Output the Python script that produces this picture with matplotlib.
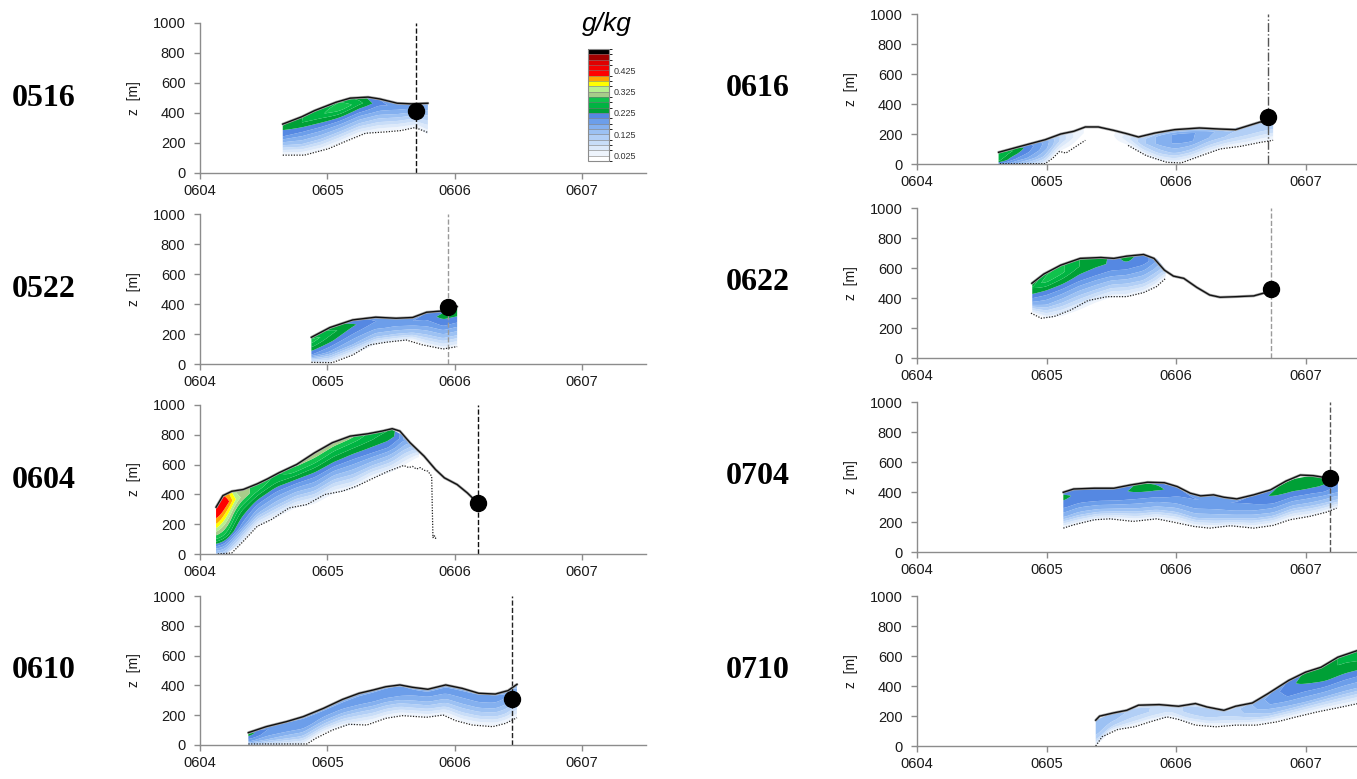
import numpy as np
import matplotlib
matplotlib.use("Agg")
import matplotlib.pyplot as plt
import matplotlib as mpl
from matplotlib.colors import ListedColormap, BoundaryNorm

nan = np.nan

# colour scale of the mixing ratio (g/kg)
levels = np.round(np.arange(0, 0.5251, 0.025), 3)
band_colors = ['#ffffff', '#eef4fc', '#dce9fa', '#c8ddf8', '#b2cff6', '#9cc1f3',
               '#84b0ef', '#6c9eea', '#5588e2', '#00a036', '#00b442', '#10c24c',
               '#a8cc8a', '#b6f08e', '#ffff00', '#ffa500', '#ff0000', '#f40000',
               '#e00000', '#a00000', '#000000']
cbar_ticks = [0.025, 0.125, 0.225, 0.325, 0.425]

# relative heights (bottom -> top of layer) where q is given
s_lev = [0, 0.3, 0.6, 0.85, 1.0]

# ---------------- 0516
t0516_x = [0.65, 0.8, 0.9, 1.07, 1.18, 1.32, 1.41, 1.55, 1.66, 1.79]
t0516_z = [326, 375, 416, 472, 499, 506, 494, 465, 461, 465]
b0516_x = [0.65, 0.82, 1.01, 1.15, 1.30, 1.46, 1.58, 1.69, 1.79]
b0516_z = [119, 119, 162, 213, 265, 274, 283, 303, 270]
f0516_x = [0.65, 0.8, 0.95, 1.1, 1.25, 1.4, 1.55, 1.7, 1.79]
f0516_top = [326, 375, 432, 480, 504, 496, 466, 461, 465]
f0516_bot = [119, 119, 145, 195, 250, 272, 283, 300, 250]
f0516_q = [[0.02, 0.12, 0.20, 0.23, 0.22],
           [0.02, 0.13, 0.20, 0.25, 0.25],
           [0.02, 0.13, 0.21, 0.27, 0.26],
           [0.02, 0.13, 0.22, 0.30, 0.27],
           [0.02, 0.12, 0.20, 0.26, 0.24],
           [0.02, 0.10, 0.17, 0.21, 0.20],
           [0.02, 0.09, 0.15, 0.19, 0.18],
           [0.02, 0.08, 0.14, 0.18, 0.17],
           [0.02, 0.07, 0.12, 0.16, 0.15]]

# ---------------- 0522
t0522_x = [0.875, 1.02, 1.2, 1.38, 1.54, 1.67, 1.78, 1.91, 2.02]
t0522_z = [178, 243, 294, 312, 305, 310, 345, 354, 383]
b0522_x = [0.875, 1.04, 1.20, 1.33, 1.46, 1.62, 1.75, 1.91, 2.02]
b0522_z = [11, 9, 60, 127, 145, 160, 127, 100, 116]
f0522_x = [0.875, 1.02, 1.2, 1.38, 1.54, 1.67, 1.78, 1.91, 2.02]
f0522_top = [178, 243, 294, 312, 305, 310, 345, 354, 383]
f0522_bot = [11, 9, 60, 130, 150, 160, 125, 100, 116]
f0522_q = [[0.05, 0.20, 0.25, 0.29, 0.26],
           [0.04, 0.17, 0.23, 0.26, 0.24],
           [0.03, 0.15, 0.20, 0.23, 0.21],
           [0.03, 0.13, 0.18, 0.20, 0.19],
           [0.03, 0.12, 0.17, 0.19, 0.18],
           [0.03, 0.12, 0.17, 0.20, 0.19],
           [0.03, 0.12, 0.18, 0.21, 0.20],
           [0.03, 0.13, 0.20, 0.235, 0.22],
           [0.03, 0.13, 0.20, 0.24, 0.23]]

# ---------------- 0604
t0604_x = [0.126, 0.18, 0.25, 0.34, 0.45, 0.53, 0.62, 0.76, 0.90, 1.04, 1.18,
           1.32, 1.43, 1.51, 1.57, 1.65, 1.76, 1.85, 1.92, 2.02, 2.10, 2.185]
t0604_z = [314, 392, 421, 433, 471, 504, 545, 601, 679, 747, 791,
           807, 825, 841, 825, 747, 657, 567, 511, 466, 410, 339]
b0604_x = [0.14, 0.25, 0.34, 0.45, 0.56, 0.70, 0.84, 0.98, 1.12, 1.23, 1.34, 1.48,
           1.60, 1.64, 1.67, 1.70, 1.73, 1.76, 1.79, 1.82, 1.825, 1.83, 1.84, 1.85, 1.86]
b0604_z = [0, 7, 85, 186, 231, 309, 332, 399, 422, 455, 500, 556,
           594, 580, 588, 570, 580, 562, 556, 522, 300, 110, 125, 105, 118]
f0604_x = [0.126, 0.2, 0.3, 0.45, 0.6, 0.75, 0.9, 1.05, 1.2, 1.35, 1.5, 1.6, 1.72]
f0604_top = [314, 405, 428, 471, 538, 600, 679, 749, 794, 812, 838, 795, 690]
f0604_bot = [0, 0, 55, 186, 240, 305, 332, 400, 430, 505, 545, 590, 650]
f0604_q = [[0.12, 0.27, 0.37, 0.42, 0.42],
           [0.10, 0.27, 0.36, 0.43, 0.40],
           [0.05, 0.20, 0.26, 0.33, 0.30],
           [0.03, 0.15, 0.22, 0.28, 0.30],
           [0.02, 0.13, 0.20, 0.26, 0.27],
           [0.02, 0.13, 0.21, 0.28, 0.31],
           [0.02, 0.14, 0.22, 0.29, 0.32],
           [0.02, 0.13, 0.22, 0.28, 0.32],
           [0.02, 0.13, 0.21, 0.27, 0.31],
           [0.02, 0.13, 0.21, 0.25, 0.26],
           [0.02, 0.12, 0.20, 0.24, 0.25],
           [0.02, 0.08, 0.14, 0.18, 0.17],
           [0.02, 0.04, 0.06, 0.08, 0.07]]

# ---------------- 0610
t0610_x = [0.38, 0.52, 0.68, 0.81, 0.97, 1.12, 1.25, 1.36, 1.46, 1.57, 1.67, 1.79,
           1.93, 2.06, 2.19, 2.32, 2.42, 2.49]
t0610_z = [83, 123, 157, 190, 246, 306, 347, 369, 391, 403, 387, 374,
           403, 380, 347, 342, 365, 407]
b0610_x = [0.38, 0.84, 0.91, 1.04, 1.17, 1.31, 1.46, 1.59, 1.78, 1.91, 2.01, 2.14,
           2.30, 2.40, 2.49]
b0610_z = [7, 7, 45, 100, 139, 134, 179, 197, 186, 201, 163, 134, 123, 145, 183]
f0610_x = t0610_x
f0610_top = t0610_z
f0610_bot = [0, 0, 0, 0, 80, 120, 135, 150, 179, 195, 192, 186, 198, 150, 130, 125, 150, 183]
f0610_q = [[0.10, 0.18, 0.22, 0.24, 0.20],
           [0.06, 0.15, 0.19, 0.20, 0.18],
           [0.04, 0.13, 0.18, 0.19, 0.17],
           [0.03, 0.12, 0.18, 0.19, 0.16],
           [0.02, 0.11, 0.17, 0.19, 0.15],
           [0.02, 0.10, 0.17, 0.19, 0.14],
           [0.02, 0.10, 0.17, 0.20, 0.14],
           [0.02, 0.10, 0.17, 0.20, 0.15],
           [0.02, 0.10, 0.17, 0.20, 0.16],
           [0.02, 0.10, 0.17, 0.20, 0.17],
           [0.02, 0.10, 0.16, 0.19, 0.16],
           [0.02, 0.10, 0.16, 0.19, 0.15],
           [0.02, 0.10, 0.16, 0.19, 0.16],
           [0.02, 0.10, 0.16, 0.19, 0.16],
           [0.02, 0.10, 0.16, 0.19, 0.17],
           [0.02, 0.10, 0.16, 0.19, 0.17],
           [0.02, 0.10, 0.15, 0.18, 0.16],
           [0.02, 0.08, 0.13, 0.15, 0.13]]

# ---------------- 0616
t0616_x = [0.63, 0.80, 0.99, 1.11, 1.21, 1.30, 1.40, 1.52, 1.62, 1.71, 1.84, 1.99,
           2.18, 2.34, 2.46, 2.56, 2.65, 2.75]
t0616_z = [78, 118, 162, 200, 218, 247, 247, 224, 202, 180, 207, 229,
           240, 233, 229, 256, 280, 284]
b0616_x = [0.64, 0.99, 1.05, 1.10, 1.15, 1.21, 1.30, nan, 1.63, 1.77, 1.93, 2.04,
           2.18, 2.34, 2.50, 2.65, 2.75]
b0616_z = [2, 2, 40, 84, 73, 107, 158, nan, 124, 56, 11, 7, 51, 100, 118, 144, 158]
f0616_x = [0.63, 0.75, 0.87, 0.99, 1.1, 1.2, 1.3, 1.46, 1.63, 1.75, 1.87, 1.99,
           2.12, 2.25, 2.4, 2.55, 2.65, 2.75]
f0616_top = [78, 106, 135, 162, 198, 218, 247, 235, 200, 185, 213, 229,
             236, 240, 231, 256, 280, 284]
f0616_bot = [0, 0, 0, 2, 84, 107, 158, 150, 124, 60, 20, 7, 30, 75, 110, 125, 144, 158]
f0616_q = [[0.20, 0.26, 0.27, 0.27, 0.25],
           [0.15, 0.20, 0.23, 0.25, 0.23],
           [0.10, 0.17, 0.20, 0.21, 0.20],
           [0.05, 0.12, 0.16, 0.17, 0.16],
           [0.02, 0.06, 0.10, 0.10, 0.08],
           [0.01, 0.03, 0.05, 0.05, 0.03],
           [0.00, 0.01, 0.02, 0.02, 0.00],
           [0.00, 0.00, 0.00, 0.00, 0.00],
           [0.02, 0.05, 0.07, 0.06, 0.04],
           [0.02, 0.08, 0.12, 0.12, 0.08],
           [0.03, 0.11, 0.16, 0.16, 0.11],
           [0.03, 0.13, 0.18, 0.18, 0.12],
           [0.03, 0.12, 0.18, 0.18, 0.12],
           [0.03, 0.10, 0.15, 0.16, 0.10],
           [0.02, 0.08, 0.12, 0.13, 0.10],
           [0.02, 0.07, 0.11, 0.12, 0.10],
           [0.02, 0.07, 0.11, 0.12, 0.10],
           [0.02, 0.06, 0.10, 0.11, 0.09]]

# ---------------- 0622
t0622_x = [0.887, 0.98, 1.11, 1.26, 1.42, 1.52, 1.62, 1.75, 1.83, 1.91, 1.98, 2.06,
           2.16, 2.26, 2.34, 2.47, 2.60, 2.75]
t0622_z = [498, 560, 619, 664, 670, 664, 679, 690, 664, 586, 546, 531,
           471, 420, 405, 409, 414, 450]
b0622_x = [0.88, 0.96, 1.06, 1.19, 1.32, 1.47, 1.62, 1.75, 1.85, 1.92]
b0622_z = [299, 265, 277, 321, 383, 409, 409, 436, 476, 531]
f0622_x = [0.89, 1.0, 1.12, 1.25, 1.38, 1.5, 1.62, 1.75, 1.85, 1.92]
f0622_top = [498, 565, 620, 660, 670, 666, 679, 690, 664, 590]
f0622_bot = [299, 265, 280, 320, 370, 405, 409, 436, 476, 531]
f0622_q = [[0.03, 0.16, 0.22, 0.25, 0.23],
           [0.03, 0.15, 0.22, 0.29, 0.27],
           [0.03, 0.14, 0.22, 0.28, 0.28],
           [0.03, 0.13, 0.21, 0.25, 0.25],
           [0.03, 0.13, 0.20, 0.235, 0.24],
           [0.03, 0.12, 0.19, 0.22, 0.22],
           [0.03, 0.12, 0.19, 0.225, 0.23],
           [0.03, 0.12, 0.18, 0.22, 0.22],
           [0.02, 0.09, 0.14, 0.17, 0.17],
           [0.01, 0.05, 0.08, 0.10, 0.10]]

# ---------------- 0704
t0704_x = [1.13, 1.21, 1.37, 1.52, 1.65, 1.78, 1.91, 2.01, 2.11, 2.19, 2.29, 2.37,
           2.47, 2.60, 2.73, 2.85, 2.96, 3.06, 3.19, 3.24]
t0704_z = [398, 420, 425, 425, 447, 465, 462, 436, 392, 374, 381, 365,
           354, 381, 414, 473, 513, 509, 491, 485]
b0704_x = [1.13, 1.21, 1.37, 1.49, 1.67, 1.85, 1.98, 2.14, 2.26, 2.42, 2.60, 2.75,
           2.88, 3.03, 3.16, 3.24]
b0704_z = [159, 181, 215, 221, 204, 221, 199, 170, 159, 175, 159, 177, 215, 237, 265, 292]
f0704_x = [1.13, 1.25, 1.4, 1.55, 1.7, 1.85, 2.0, 2.15, 2.3, 2.45, 2.6, 2.75, 2.9,
           3.05, 3.15, 3.25]
f0704_top = [398, 422, 425, 428, 452, 463, 438, 383, 380, 356, 381, 420, 485, 510, 495, 480]
f0704_bot = [159, 185, 212, 215, 205, 218, 200, 165, 160, 170, 160, 177, 220, 237, 260, 292]
f0704_q = [[0.02, 0.15, 0.21, 0.235, 0.22],
           [0.02, 0.14, 0.20, 0.215, 0.20],
           [0.02, 0.14, 0.20, 0.21, 0.20],
           [0.02, 0.14, 0.20, 0.215, 0.20],
           [0.02, 0.14, 0.20, 0.235, 0.23],
           [0.02, 0.14, 0.20, 0.235, 0.22],
           [0.02, 0.13, 0.19, 0.21, 0.20],
           [0.02, 0.13, 0.18, 0.20, 0.19],
           [0.02, 0.13, 0.18, 0.20, 0.19],
           [0.02, 0.13, 0.18, 0.20, 0.19],
           [0.02, 0.13, 0.19, 0.21, 0.20],
           [0.02, 0.14, 0.20, 0.23, 0.22],
           [0.02, 0.14, 0.21, 0.25, 0.24],
           [0.02, 0.14, 0.21, 0.25, 0.24],
           [0.02, 0.13, 0.20, 0.23, 0.22],
           [0.02, 0.12, 0.18, 0.20, 0.19]]

# ---------------- 0710
t0710_x = [1.38, 1.41, 1.52, 1.62, 1.71, 1.87, 2.02, 2.15, 2.24, 2.37, 2.46, 2.59,
           2.71, 2.87, 3.0, 3.12, 3.25, 3.40, 3.5]
t0710_z = [172, 199, 221, 238, 272, 276, 265, 283, 260, 238, 265, 287,
           349, 437, 492, 525, 592, 636, 660]
b0710_x = [1.38, 1.43, 1.55, 1.68, 1.80, 1.93, 2.02, 2.15, 2.31, 2.46, 2.62, 2.78,
           2.93, 3.09, 3.28, 3.5]
b0710_z = [0, 62, 110, 128, 161, 194, 177, 139, 128, 139, 139, 161, 194, 227, 260, 300]
f0710_x = [1.38, 1.5, 1.65, 1.8, 1.95, 2.1, 2.25, 2.4, 2.55, 2.7, 2.85, 3.0, 3.15, 3.3, 3.45]
f0710_top = [172, 217, 250, 274, 270, 280, 258, 246, 280, 345, 425, 492, 540, 607, 650]
f0710_bot = [0, 95, 125, 161, 190, 150, 132, 134, 139, 150, 178, 208, 238, 262, 290]
f0710_q = [[0.04, 0.12, 0.14, 0.14, 0.13],
           [0.02, 0.10, 0.13, 0.14, 0.13],
           [0.02, 0.08, 0.11, 0.12, 0.10],
           [0.02, 0.07, 0.10, 0.10, 0.08],
           [0.02, 0.06, 0.08, 0.08, 0.07],
           [0.02, 0.08, 0.11, 0.11, 0.08],
           [0.02, 0.08, 0.12, 0.12, 0.09],
           [0.02, 0.07, 0.10, 0.10, 0.08],
           [0.02, 0.09, 0.13, 0.14, 0.12],
           [0.02, 0.12, 0.17, 0.18, 0.16],
           [0.02, 0.14, 0.20, 0.21, 0.20],
           [0.02, 0.15, 0.21, 0.24, 0.23],
           [0.02, 0.15, 0.22, 0.25, 0.25],
           [0.02, 0.15, 0.22, 0.25, 0.25],
           [0.02, 0.15, 0.22, 0.26, 0.25]]

names = ['0516', '0522', '0604', '0610', '0616', '0622', '0704', '0710']
dot_x = [1.70, 1.945, 2.185, 2.45, 2.71, 2.73, 3.19, None]
dot_z = [411, 383, 339, 306, 313, 460, 491, None]
vline_col = ['#111111', '#9a9a9a', '#111111', '#222222', '#555555', '#9a9a9a', '#555555', None]
vline_ls = ['--', '--', '--', '--', '-.', '--', '--', None]

xtick_pos = [0, 1, 2, 3]
xtick_lab = ['0604', '0605', '0606', '0607']
ytick_pos = [0, 200, 400, 600, 800, 1000]

data = {
    '0516': (t0516_x, t0516_z, b0516_x, b0516_z, f0516_x, f0516_top, f0516_bot, f0516_q),
    '0522': (t0522_x, t0522_z, b0522_x, b0522_z, f0522_x, f0522_top, f0522_bot, f0522_q),
    '0604': (t0604_x, t0604_z, b0604_x, b0604_z, f0604_x, f0604_top, f0604_bot, f0604_q),
    '0610': (t0610_x, t0610_z, b0610_x, b0610_z, f0610_x, f0610_top, f0610_bot, f0610_q),
    '0616': (t0616_x, t0616_z, b0616_x, b0616_z, f0616_x, f0616_top, f0616_bot, f0616_q),
    '0622': (t0622_x, t0622_z, b0622_x, b0622_z, f0622_x, f0622_top, f0622_bot, f0622_q),
    '0704': (t0704_x, t0704_z, b0704_x, b0704_z, f0704_x, f0704_top, f0704_bot, f0704_q),
    '0710': (t0710_x, t0710_z, b0710_x, b0710_z, f0710_x, f0710_top, f0710_bot, f0710_q),
}

W, H = 1357, 779
# axes frames in pixels: left, top(z=1000), bottom(z=0)
frames = [(200, 23, 173), (200, 214, 364), (200, 405, 554), (200, 596, 745),
          (917, 14, 164), (917, 208, 358), (917, 402, 552), (917, 596, 746)]
px_per_day = [127.3] * 4 + [129.5] * 4
label_xy = [(44, 99), (44, 290), (44, 480), (44, 670),
            (758, 88), (758, 283), (758, 477), (758, 670)]

plt.rcParams['font.family'] = ['Liberation Sans', 'DejaVu Sans']


def smooth(a, n):
    if n < 2:
        return a
    pad = np.concatenate([np.repeat(a[:1], n), a, np.repeat(a[-1:], n)])
    k = np.ones(n) / n
    return np.convolve(pad, k, mode='same')[n:-n]


def draw_layer(ax, fx, ftop, fbot, fq):
    fx = np.asarray(fx, float)
    q = np.asarray(fq, float)
    xf = np.linspace(fx[0], fx[-1], 300)
    sf = np.linspace(0, 1, 80)
    topf = smooth(np.interp(xf, fx, ftop), 9)
    botf = smooth(np.interp(xf, fx, fbot), 9)
    qx = np.array([smooth(np.interp(xf, fx, q[:, j]), 15) for j in range(len(s_lev))])
    qf = np.array([np.interp(sf, s_lev, qx[:, i]) for i in range(len(xf))]).T
    X = np.tile(xf, (len(sf), 1))
    Z = botf[None, :] + sf[:, None] * (topf - botf)[None, :]
    ax.contourf(X, Z, qf, levels=levels[1:], colors=band_colors[1:], zorder=1,
                antialiased=True)


fig = plt.figure(figsize=(W / 100, H / 100), dpi=100)

for i, nm in enumerate(names):
    left, top, bot = frames[i]
    width = px_per_day[i] * 3.5
    ax = fig.add_axes([left / W, 1 - bot / H, width / W, (bot - top) / H])
    tx, tz, bx, bz, fx, ftop, fbot, fq = data[nm]
    draw_layer(ax, fx, ftop, fbot, fq)
    ax.plot(bx, bz, color='#222222', lw=0.9, ls=(0, (1, 1.2)), zorder=3)
    ax.plot(tx, tz, color='#a8a8a8', lw=2.0, zorder=3, solid_capstyle='round')
    ax.plot(tx, tz, color='#111111', lw=1.0, zorder=4)
    if dot_x[i] is not None:
        ax.plot([dot_x[i], dot_x[i]], [0, 1000], color=vline_col[i], ls=vline_ls[i],
                lw=1.0, zorder=2)
        ax.plot(dot_x[i], dot_z[i], 'o', color='black', ms=11.5, zorder=5)
    ax.set_xlim(0, 3.5)
    ax.set_ylim(0, 1000)
    ax.set_xticks(xtick_pos)
    ax.set_xticklabels(xtick_lab)
    ax.set_yticks(ytick_pos)
    for sp in ['top', 'right']:
        ax.spines[sp].set_visible(False)
    for sp in ['left', 'bottom']:
        ax.spines[sp].set_color('#8c8c8c')
        ax.spines[sp].set_linewidth(1.0)
    ax.spines['left'].set_bounds(0, 1000)
    ax.tick_params(direction='out', length=4.5, width=1.0, color='#8c8c8c',
                   labelsize=10.5, labelcolor='#1a1a1a')
    ax.tick_params(axis='x', pad=3.5)
    ax.tick_params(axis='y', pad=6)
    ax.set_ylabel('z  [m]', fontsize=10, color='#1a1a1a')
    ax.yaxis.set_label_coords(-59 / width, 0.5)
    ax.patch.set_alpha(0)
    lx, ly = label_xy[i]
    fig.text(lx / W, 1 - ly / H, nm, family='Liberation Serif', weight='bold',
             fontsize=23, ha='center', va='center', color='black')

# colour bar
cax = fig.add_axes([588 / W, 1 - 161 / H, 21 / W, 112 / H])
cmap = ListedColormap(band_colors)
norm = BoundaryNorm(levels, cmap.N)
cb = mpl.colorbar.ColorbarBase(cax, cmap=cmap, norm=norm, boundaries=levels,
                               ticks=cbar_ticks, drawedges=True)
cb.dividers.set_color('#7a7a7a')
cb.dividers.set_linewidth(0.4)
cb.outline.set_edgecolor('#8c8c8c')
cb.outline.set_linewidth(0.8)
cax.set_yticklabels(['%.3f' % t for t in cbar_ticks])
cax.tick_params(length=0, labelsize=6.5, labelcolor='#333333', pad=3)
fig.text(607 / W, 1 - 24 / H, 'g/kg', fontsize=19, style='italic', ha='center',
         va='center', color='black')

fig.savefig('out.png', dpi=100)
